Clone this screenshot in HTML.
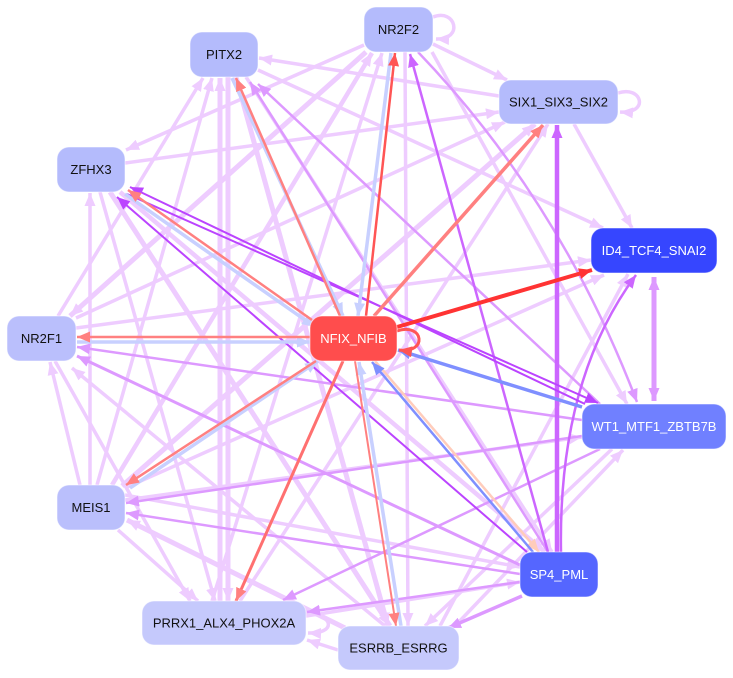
<!DOCTYPE html>
<html><head><meta charset="utf-8"><style>
html,body{margin:0;padding:0;background:#fff;}
svg{display:block;}
text{font-family:"Liberation Sans",Arial,sans-serif;font-size:13px;}
</style></head><body>
<svg width="733" height="678" viewBox="0 0 733 678" xmlns="http://www.w3.org/2000/svg">
<defs>
<marker id="aL" markerUnits="userSpaceOnUse" markerWidth="14" markerHeight="12" refX="13" refY="6" orient="auto"><path d="M0,0.5L13,6L0,11.5z" fill="#eeccff"/></marker>
<marker id="aM" markerUnits="userSpaceOnUse" markerWidth="14" markerHeight="12" refX="13" refY="6" orient="auto"><path d="M0,0.5L13,6L0,11.5z" fill="#dd99ff"/></marker>
<marker id="aM2" markerUnits="userSpaceOnUse" markerWidth="14" markerHeight="12" refX="13" refY="6" orient="auto-start-reverse"><path d="M0,0.5L13,6L0,11.5z" fill="#dd99ff"/></marker>
<marker id="aP" markerUnits="userSpaceOnUse" markerWidth="14" markerHeight="12" refX="13" refY="6" orient="auto"><path d="M0,0.5L13,6L0,11.5z" fill="#cc66ff"/></marker>
<marker id="aD" markerUnits="userSpaceOnUse" markerWidth="14" markerHeight="12" refX="13" refY="6" orient="auto"><path d="M0,0.5L13,6L0,11.5z" fill="#bb44ff"/></marker>
<marker id="aR" markerUnits="userSpaceOnUse" markerWidth="14" markerHeight="12" refX="13" refY="6" orient="auto"><path d="M0,0.5L13,6L0,11.5z" fill="#ff3333"/></marker>
<marker id="aR2" markerUnits="userSpaceOnUse" markerWidth="14" markerHeight="12" refX="13" refY="6" orient="auto"><path d="M0,0.5L13,6L0,11.5z" fill="#ff5555"/></marker>
<marker id="aS" markerUnits="userSpaceOnUse" markerWidth="14" markerHeight="12" refX="13" refY="6" orient="auto"><path d="M0,0.5L13,6L0,11.5z" fill="#ff8080"/></marker>
<marker id="aB" markerUnits="userSpaceOnUse" markerWidth="14" markerHeight="12" refX="13" refY="6" orient="auto"><path d="M0,0.5L13,6L0,11.5z" fill="#c8d0ff"/></marker>
<marker id="aBB" markerUnits="userSpaceOnUse" markerWidth="14" markerHeight="12" refX="13" refY="6" orient="auto"><path d="M0,0.5L13,6L0,11.5z" fill="#7f8fff"/></marker>
<marker id="aPK" markerUnits="userSpaceOnUse" markerWidth="14" markerHeight="12" refX="13" refY="6" orient="auto"><path d="M0,0.5L13,6L0,11.5z" fill="#ffccbb"/></marker>
</defs>

<!-- light edges -->
<g fill="none" stroke="#eeccff" stroke-width="3.5" marker-end="url(#aL)">
<path d="M58,316L203,78"/>
<path d="M97,485L212,78"/>
<path d="M220,601L220,78" stroke-width="5"/>
<path d="M228,77L228,601" stroke-width="5"/>
<path d="M236,77L388,626" stroke-width="5"/>
<path d="M366,52L70,316" stroke-width="5"/>
<path d="M112,485L372,53" stroke-width="4.5"/>
<path d="M212,601L382,53"/>
<path d="M405,52L408,626"/>
<path d="M499,96L259,58"/>
<path d="M364,45L126,150"/>
<path d="M258,70L603,228"/>
<path d="M574,124L632,228"/>
<path d="M433,44L507,80"/>
<path d="M125,163L499,112"/>
<path d="M76,318L505,122"/>
<path d="M76,328L591,260"/>
<path d="M122,486L535,124" stroke-width="5"/>
<path d="M240,601L548,124"/>
<path d="M432,52L627,404"/>
<path d="M125,500L582,437"/>
<path d="M455,626L623,450"/>
<path d="M612,449L425,626"/>
<path d="M100,192L215,601"/>
<path d="M110,192L390,626" stroke-width="5"/>
<path d="M120,192L545,552" stroke-width="4.5"/>
<path d="M90,485L90,193"/>
<path d="M80,485L50,362"/>
<path d="M55,361L190,601"/>
<path d="M385,626L72,368"/>
<path d="M118,530L198,601"/>
<path d="M345,628L127,520" stroke-width="5"/>
<path d="M338,650L307,640"/>
<path d="M440,626L628,274"/>
<path d="M125,495L520,567"/>
<path d="M306,616L520,582"/>
<path d="M125,488L604,275"/>
<path d="M246,77L552,552"/>
<path d="M433,17C456,8 464,40 436,39"/>
<path d="M618,93C642,85 650,114 620,112"/>
<path d="M306,613C335,615 336,634 308,633"/>
</g>

<!-- medium purple edges -->
<g fill="none" stroke="#dd99ff" stroke-width="2.5" marker-end="url(#aM)">
<path d="M600,404L258,84"/>
<path d="M548,552L250,82"/>
<path d="M582,420L77,347"/>
<path d="M520,565L77,356" stroke-width="3"/>
<path d="M582,436L126,503"/>
<path d="M520,574L126,513"/>
<path d="M520,582L307,612"/>
<path d="M600,449L283,600"/>
<path d="M522,596L448,628" stroke-width="3.5"/>
<path d="M418,52Q560,200 637,402"/>
<path d="M654,277L654,401" stroke-width="5" marker-start="url(#aM2)" marker-end="url(#aM2)"/>
</g>

<!-- purple edges -->
<g fill="none" stroke="#cc66ff" stroke-width="2.5" marker-end="url(#aP)">
<path d="M557,552L557,125" stroke-width="4.5"/>
<path d="M548,552L410,54"/>
<path d="M561,552Q558,380 636,275"/>
</g>
<g fill="none" stroke="#bb44ff" stroke-width="2" marker-end="url(#aD)">
<path d="M585,404L130,187"/>
<path d="M127,194L598,403"/>
<path d="M527,552L117,197"/>
</g>

<!-- NFIX edges -->
<g fill="none" stroke-width="2.5">
<path d="M391,53L358,316" stroke="#c8d0ff" stroke-width="3.5" marker-end="url(#aB)"/>
<path d="M232,78L343,316" stroke="#c8d0ff" stroke-width="3.5" marker-end="url(#aB)"/>
<path d="M125,194L315,327" stroke="#c8d0ff" stroke-width="3.5" marker-end="url(#aB)"/>
<path d="M77,342L310,342" stroke="#c8d0ff" stroke-width="3.5" marker-end="url(#aB)"/>
<path d="M130,488L318,361" stroke="#c8d0ff" stroke-width="3.5" marker-end="url(#aB)"/>
<path d="M401,626L359,362" stroke="#c8d0ff" stroke-width="3.5" marker-end="url(#aB)"/>
<path d="M366,316L395,53" stroke="#ff5555" marker-end="url(#aR2)"/>
<path d="M340,316L236,78" stroke="#ff8080" marker-end="url(#aS)"/>
<path d="M312,320L128,190" stroke="#ff8080" marker-end="url(#aS)"/>
<path d="M310,337L77,337" stroke="#ff8080" marker-end="url(#aS)"/>
<path d="M316,361L126,485" stroke="#ff8080" marker-end="url(#aS)"/>
<path d="M343,361L236,601" stroke="#ff7070" stroke-width="3" marker-end="url(#aS)"/>
<path d="M355,361L396,626" stroke="#ff8080" stroke-width="2" marker-end="url(#aS)"/>
<path d="M375,361L539,552" stroke="#ffccbb" marker-end="url(#aPK)"/>
<path d="M533,552L372,362" stroke="#7f8fff" stroke-width="2.5" marker-end="url(#aBB)"/>
<path d="M582,407L398,350" stroke="#7f8fff" stroke-width="3.5" marker-end="url(#aBB)"/>
<path d="M374,316L543,125" stroke="#ff8080" stroke-width="3.5" marker-end="url(#aS)"/>
<path d="M397,327L592,270" stroke="#ff3333" stroke-width="4" marker-end="url(#aR)"/>
<path d="M397,331C424,322 428,354 399,350" stroke="#ff5555" stroke-width="3" marker-end="url(#aR2)"/>
</g>

<!-- nodes -->
<g stroke="#ffffff" stroke-opacity="0.5" stroke-width="1">
<rect x="190" y="32" width="68" height="45" rx="12" fill="#b4bbfc"/>
<rect x="364" y="7" width="69" height="45" rx="12" fill="#b4bbfc"/>
<rect x="499" y="80" width="119" height="44" rx="12" fill="#b4bbfc"/>
<rect x="57" y="147" width="68" height="45" rx="12" fill="#b4bbfc"/>
<rect x="591" y="228" width="126" height="45" rx="12" fill="#3646ff"/>
<rect x="7" y="316" width="69" height="45" rx="12" fill="#babffc"/>
<rect x="310" y="316" width="87" height="45" rx="12" fill="#ff4d4d"/>
<rect x="582" y="404" width="144" height="45" rx="12" fill="#7080ff"/>
<rect x="57" y="485" width="68" height="45" rx="12" fill="#babffc"/>
<rect x="520" y="552" width="78" height="45" rx="12" fill="#5566ff"/>
<rect x="142" y="601" width="164" height="44" rx="12" fill="#c5c9fc"/>
<rect x="338" y="626" width="121" height="44" rx="12" fill="#c5c9fc"/>
</g>
<g text-anchor="middle" dominant-baseline="central">
<text x="224" y="54.5" fill="#111">PITX2</text>
<text x="398.5" y="29.5" fill="#111">NR2F2</text>
<text x="558.5" y="102" fill="#111">SIX1_SIX3_SIX2</text>
<text x="91" y="169.5" fill="#111">ZFHX3</text>
<text x="654" y="250.5" fill="#fff">ID4_TCF4_SNAI2</text>
<text x="41.5" y="338.5" fill="#111">NR2F1</text>
<text x="353.5" y="338.5" fill="#fff">NFIX_NFIB</text>
<text x="654" y="426.5" fill="#fff">WT1_MTF1_ZBTB7B</text>
<text x="91" y="507.5" fill="#111">MEIS1</text>
<text x="559" y="574.5" fill="#fff">SP4_PML</text>
<text x="224" y="623" fill="#111">PRRX1_ALX4_PHOX2A</text>
<text x="398.5" y="648" fill="#111">ESRRB_ESRRG</text>
</g>
</svg>
</body></html>
